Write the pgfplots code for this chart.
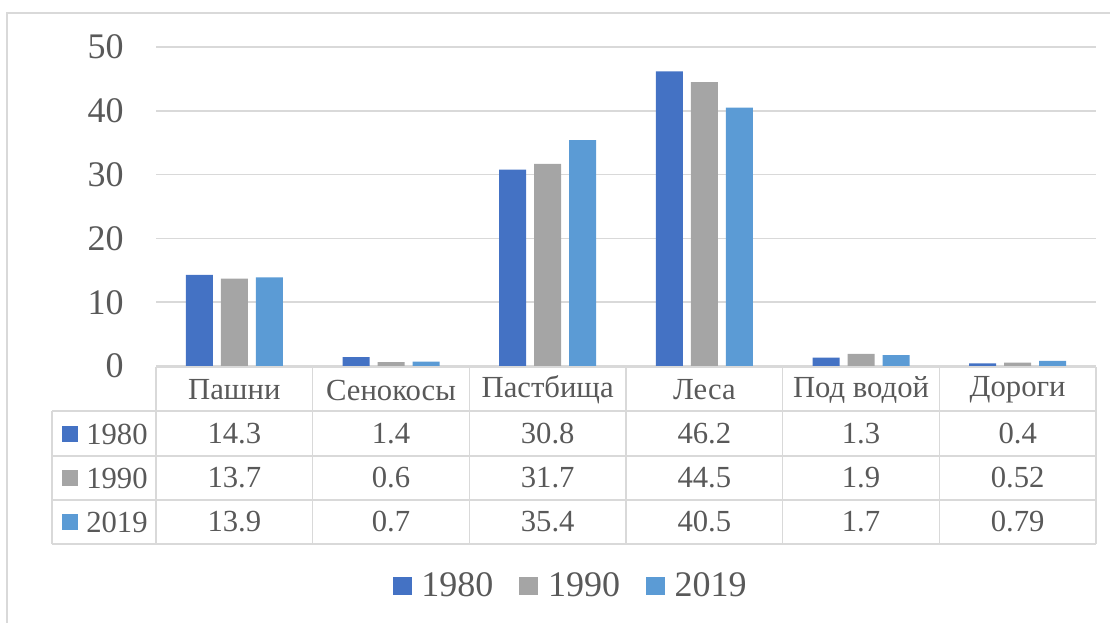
\documentclass[border=0pt]{standalone}
\usepackage{pgfplots}
\pgfplotsset{compat=1.18}
\usepackage{fontspec}
\setmainfont{Liberation Serif}
\definecolor{cA}{HTML}{4472C4}
\definecolor{cB}{HTML}{A5A5A5}
\definecolor{cC}{HTML}{5B9BD5}
\definecolor{txt}{HTML}{595959}
\definecolor{grd}{HTML}{D9D9D9}
\begin{document}
\begin{tikzpicture}[x=0.75pt,y=0.75pt]
\useasboundingbox (0,0) rectangle (1110,622);
\begin{axis}[
  at={(117pt,192pt)}, anchor=south west,
  scale only axis, width=705pt, height=239.25pt,
  xmin=0, xmax=6, ymin=0, ymax=50,
  ybar=6pt, bar width=20.25pt,
  xtick=\empty,
  ytick={0,10,20,30,40,50},
  ymajorgrids, grid style={grd, line width=1.1pt},
  major tick length=0pt,
  axis line style={draw=none},
  /pgf/number format/assume math mode=true,
  yticklabel style={font=\fontsize{27}{27}\selectfont, text=txt, inner sep=0pt, xshift=-24pt},
  legend style={at={(0.4415,-0.6897)}, anchor=center, draw=none, fill=none,
     font=\fontsize{27}{27}\selectfont, text=txt, legend columns=3,
     /tikz/every odd column/.append style={column sep=5.25pt},
     /tikz/every even column/.append style={column sep=17.5pt},
     inner sep=0pt},
  legend image code/.code={\fill[#1] (0pt,-7.1pt) rectangle (14.25pt,7.1pt);},
]
\addplot[fill=cA, draw=none] coordinates {(0.5,14.3) (1.5,1.4) (2.5,30.8) (3.5,46.2) (4.5,1.3) (5.5,0.4)};
\addplot[fill=cB, draw=none] coordinates {(0.5,13.7) (1.5,0.6) (2.5,31.7) (3.5,44.5) (4.5,1.9) (5.5,0.52)};
\addplot[fill=cC, draw=none] coordinates {(0.5,13.9) (1.5,0.7) (2.5,35.4) (3.5,40.5) (4.5,1.7) (5.5,0.79)};
\legend{1980,1990,2019}
\end{axis}
\begin{scope}[shift={(0,622)}, yscale=-1]
  % outer border
  \draw[grd, line width=1.5pt] (7,640) -- (7,13) -- (1130,13);
  % table lines
  \begin{scope}[grd, line width=1.1pt]
    \draw (156,367) -- (1096,367);
    \foreach \y in {411,456,500,544} \draw (52,\y) -- (1096,\y);
    \draw (52,411) -- (52,544);
    \foreach \i in {0,...,6} \draw ({156+156.667*\i},367) -- ({156+156.667*\i},544);
  \end{scope}
  % keys
  \fill[cA] (62,426) rectangle (78,442);
  \fill[cB] (62,470) rectangle (78,486);
  \fill[cC] (62,514) rectangle (78,530);
  \begin{scope}[every node/.style={font=\fontsize{23}{23}\selectfont, text=txt, inner sep=0pt}]
    \node[anchor=west] at (86,434) {1980};
    \node[anchor=west] at (86,478) {1990};
    \node[anchor=west] at (86,522) {2019};
    \foreach \n [count=\i from 0] in {Пашни,Сенокосы,Пастбища,Леса,Под водой,Дороги}
      \node at ({156+156.667*(\i+0.5)},390) {\n};
    \foreach \v [count=\i from 0] in {14.3,1.4,30.8,46.2,1.3,0.4}
      \node at ({156+156.667*(\i+0.5)},434) {\v};
    \foreach \v [count=\i from 0] in {13.7,0.6,31.7,44.5,1.9,0.52}
      \node at ({156+156.667*(\i+0.5)},478) {\v};
    \foreach \v [count=\i from 0] in {13.9,0.7,35.4,40.5,1.7,0.79}
      \node at ({156+156.667*(\i+0.5)},522) {\v};
  \end{scope}
\end{scope}
\end{tikzpicture}
\end{document}
